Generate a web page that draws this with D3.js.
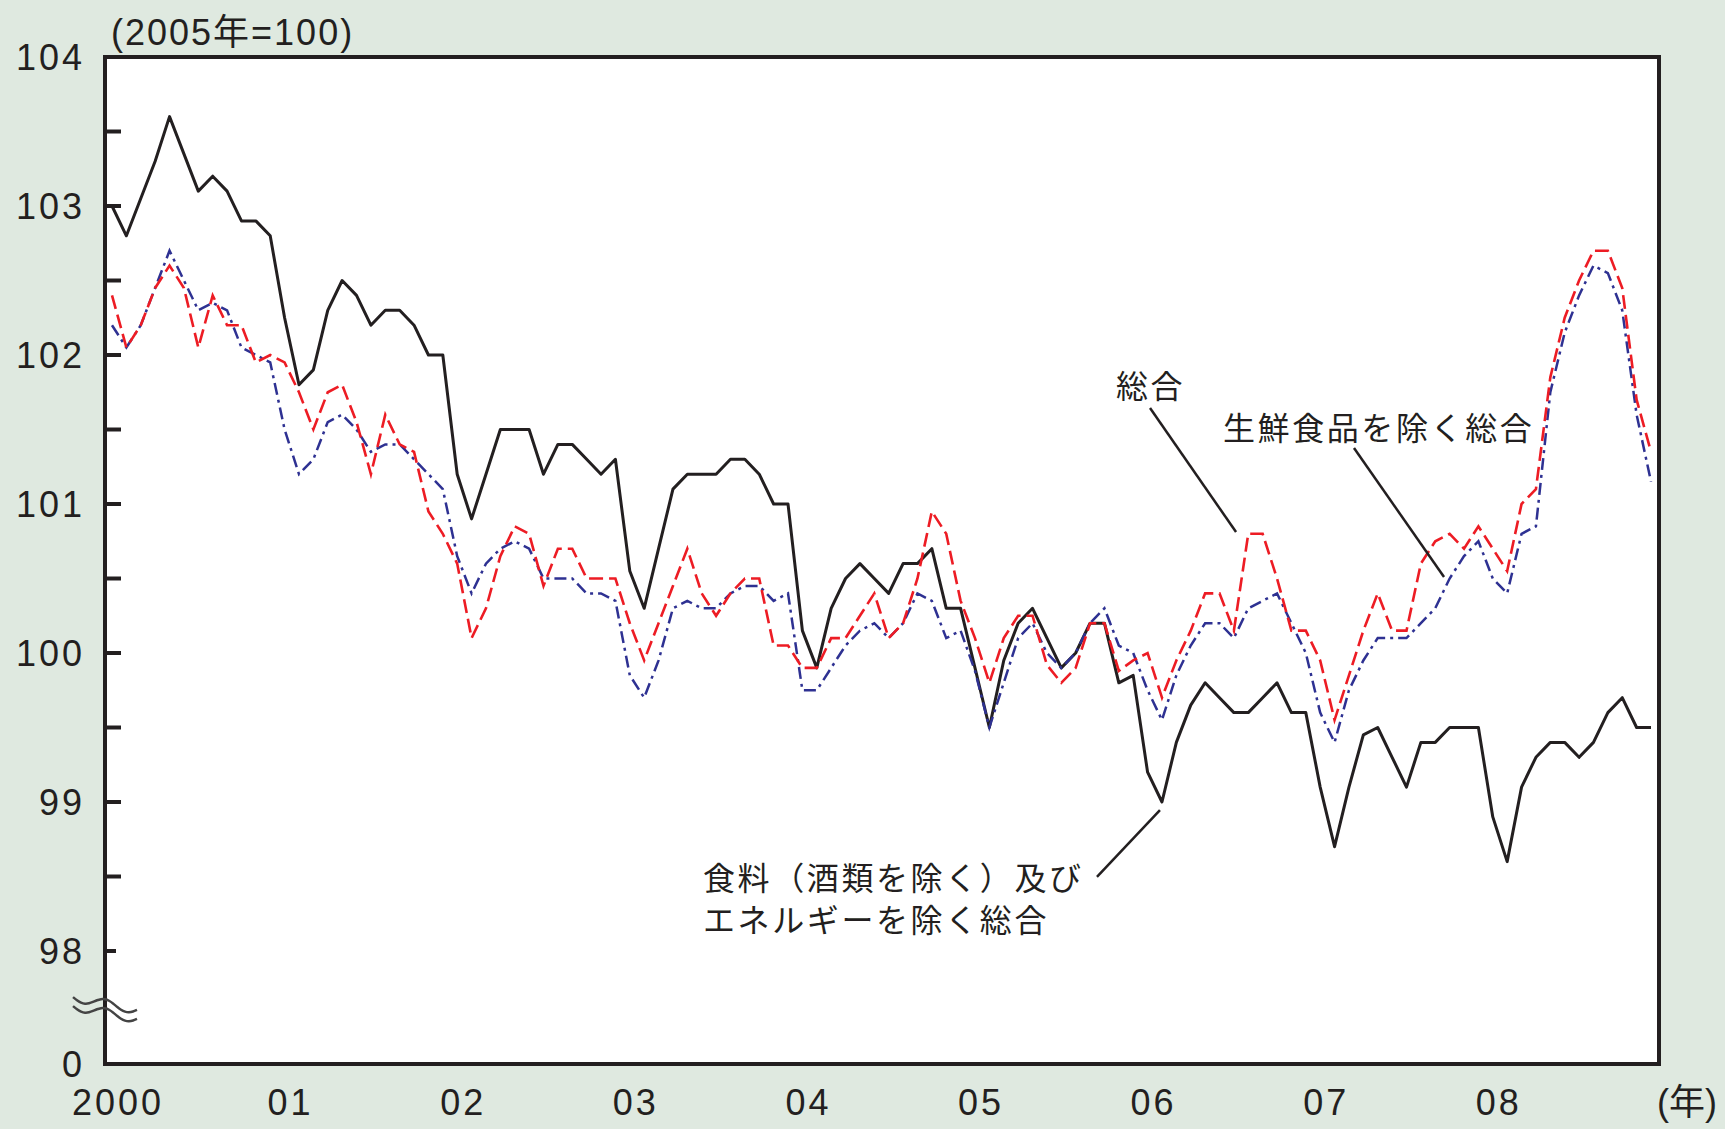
<!DOCTYPE html>
<html>
<head>
<meta charset="utf-8">
<script src="https://cdn.jsdelivr.net/npm/d3@7"></script>
<style>
  html, body { margin: 0; padding: 0; background: #dfe9e0; }
  svg { display: block; }
</style>
</head>
<body>
<script>
// 年ラベル(各年1月の位置)
var yearLabels = ["2000", "01", "02", "03", "04", "05", "06", "07", "08"];
// 縦軸の目盛ラベル(0 は省略記号の下)
var yLabelValues = [0, 98, 99, 100, 101, 102, 103, 104];
var yTickValues = d3.range(98, 104, 0.5);

// 食料（酒類を除く）及びエネルギーを除く総合 (2000年1月〜2008年12月)
var coreCore = [
  103.0, 102.8, 103.05, 103.3, 103.6, 103.35, 103.1, 103.2, 103.1, 102.9, 102.9, 102.8,
  102.25, 101.8, 101.9, 102.3, 102.5, 102.4, 102.2, 102.3, 102.3, 102.2, 102.0, 102.0,
  101.2, 100.9, 101.2, 101.5, 101.5, 101.5, 101.2, 101.4, 101.4, 101.3, 101.2, 101.3,
  100.55, 100.3, 100.7, 101.1, 101.2, 101.2, 101.2, 101.3, 101.3, 101.2, 101.0, 101.0,
  100.15, 99.9, 100.3, 100.5, 100.6, 100.5, 100.4, 100.6, 100.6, 100.7, 100.3, 100.3,
  99.9, 99.5, 99.95, 100.2, 100.3, 100.1, 99.9, 100.0, 100.2, 100.2, 99.8, 99.85,
  99.2, 99.0, 99.4, 99.65, 99.8, 99.7, 99.6, 99.6, 99.7, 99.8, 99.6, 99.6,
  99.1, 98.7, 99.1, 99.45, 99.5, 99.3, 99.1, 99.4, 99.4, 99.5, 99.5, 99.5,
  98.9, 98.6, 99.1, 99.3, 99.4, 99.4, 99.3, 99.4, 99.6, 99.7, 99.5, 99.5
];

// 総合
var allItems = [
  102.4, 102.05, 102.2, 102.45, 102.6, 102.45, 102.05, 102.4, 102.2, 102.2, 101.95, 102.0,
  101.95, 101.75, 101.5, 101.75, 101.8, 101.55, 101.2, 101.6, 101.4, 101.35, 100.95, 100.8,
  100.6, 100.1, 100.3, 100.65, 100.85, 100.8, 100.45, 100.7, 100.7, 100.5, 100.5, 100.5,
  100.2, 99.95, 100.2, 100.45, 100.7, 100.4, 100.25, 100.4, 100.5, 100.5, 100.05, 100.05,
  99.9, 99.9, 100.1, 100.1, 100.25, 100.4, 100.1, 100.2, 100.5, 100.95, 100.8, 100.35,
  100.1, 99.8, 100.1, 100.25, 100.25, 99.92, 99.8, 99.9, 100.2, 100.2, 99.88, 99.95,
  100.0, 99.7, 99.95, 100.15, 100.4, 100.4, 100.15, 100.8, 100.8, 100.5, 100.15, 100.15,
  99.95, 99.55, 99.85, 100.15, 100.4, 100.15, 100.15, 100.6, 100.75, 100.8, 100.7, 100.85,
  100.7, 100.55, 101.0, 101.1, 101.85, 102.25, 102.5, 102.7, 102.7, 102.45, 101.7, 101.35
];

// 生鮮食品を除く総合
var exFresh = [
  102.2, 102.05, 102.2, 102.45, 102.7, 102.5, 102.3, 102.35, 102.3, 102.05, 102.0, 101.95,
  101.5, 101.2, 101.3, 101.55, 101.6, 101.5, 101.35, 101.4, 101.4, 101.3, 101.2, 101.1,
  100.65, 100.4, 100.6, 100.7, 100.75, 100.7, 100.5, 100.5, 100.5, 100.4, 100.4, 100.35,
  99.85, 99.7, 99.95, 100.3, 100.35, 100.3, 100.3, 100.4, 100.45, 100.45, 100.35, 100.4,
  99.75, 99.75, 99.9, 100.05, 100.15, 100.2, 100.1, 100.2, 100.4, 100.35, 100.1, 100.15,
  99.88, 99.5, 99.8, 100.1, 100.2, 100.0, 99.9, 100.0, 100.2, 100.3, 100.05, 100.0,
  99.75, 99.55, 99.85, 100.05, 100.2, 100.2, 100.1, 100.3, 100.35, 100.4, 100.2, 100.0,
  99.6, 99.4, 99.75, 99.95, 100.1, 100.1, 100.1, 100.2, 100.3, 100.5, 100.65, 100.75,
  100.5, 100.4, 100.8, 100.85, 101.75, 102.15, 102.4, 102.6, 102.55, 102.3, 101.6, 101.15
];

// 注記(位置は月番号と指数値で指定)
var notes = [
  { lines: ["総合"], at: [69.8, 101.805], from: [72.17, 101.644], to: [78.15, 100.812] },
  { lines: ["生鮮食品を除く総合"], at: [77.24, 101.523], from: [86.35, 101.376], to: [92.61, 100.51] },
  { lines: ["食料（酒類を除く）及び", "エネルギーを除く総合"], at: [41.09, 98.503],
    from: [68.48, 98.497], to: [72.86, 98.946] }
];

var W = 1725, H = 1129;
var plot = { left: 105, top: 57, right: 1659, bottom: 1064 };
var ink = "#231f20";
var numFont = "'Liberation Sans', Arial, 'Noto Sans CJK JP', sans-serif";
var jpFont = "'Noto Sans CJK JP', 'Noto Sans CJK SC', sans-serif";

var svg = d3.select("body").append("svg")
  .attr("width", W)
  .attr("height", H);

svg.append("rect")
  .attr("width", W)
  .attr("height", H)
  .attr("fill", "#dfe9e0");

// 横軸: 月番号 0..107
var x = d3.scaleLinear()
  .domain([0, coreCore.length - 1])
  .range([112, 1651]);

// 縦軸: 98〜104 と、省略した 0 を下端に
var y = d3.scaleLinear()
  .domain([0, 98, 104])
  .range([plot.bottom, 951, plot.top]);

// プロット領域
svg.append("rect")
  .attr("x", plot.left)
  .attr("y", plot.top)
  .attr("width", plot.right - plot.left)
  .attr("height", plot.bottom - plot.top)
  .attr("fill", "#fff");

// 目盛(内向き)
svg.append("g")
  .selectAll("line")
  .data(yTickValues)
  .join("line")
  .attr("x1", plot.left)
  .attr("x2", function(d) { return plot.left + (d === 98 ? 11 : 16); })
  .attr("y1", function(d) { return y(d); })
  .attr("y2", function(d) { return y(d); })
  .attr("stroke", ink)
  .attr("stroke-width", 4);

// 縦軸ラベル
var yAxis = svg.append("g")
  .attr("transform", "translate(" + plot.left + ",0)")
  .call(d3.axisLeft(y).tickValues(yLabelValues).tickSize(0).tickPadding(20)
    .tickFormat(d3.format("d")));
yAxis.select(".domain").remove();
yAxis.selectAll("text")
  .attr("dy", null)
  .attr("dominant-baseline", "central")
  .style("font-family", numFont)
  .style("font-size", "36px")
  .style("letter-spacing", "3px")
  .attr("fill", ink);

// 横軸ラベル
var xAxis = svg.append("g")
  .attr("transform", "translate(5.5," + plot.bottom + ")")
  .call(d3.axisBottom(x)
    .tickValues(yearLabels.map(function(d, i) { return i * 12; }))
    .tickFormat(function(d) { return yearLabels[d / 12]; })
    .tickSize(0).tickPadding(38));
xAxis.select(".domain").remove();
xAxis.selectAll("text")
  .attr("dy", null)
  .attr("dominant-baseline", "central")
  .style("font-family", numFont)
  .style("font-size", "36px")
  .style("letter-spacing", "3px")
  .attr("fill", ink);

svg.append("text")
  .attr("x", 1657)
  .attr("y", 1102)
  .attr("dominant-baseline", "central")
  .style("font-family", numFont)
  .style("font-size", "36px")
  .attr("fill", ink)
  .text("(年)");

svg.append("text")
  .attr("x", 111)
  .attr("y", 32)
  .attr("dominant-baseline", "central")
  .style("font-family", numFont)
  .style("font-size", "36px")
  .style("letter-spacing", "2px")
  .attr("fill", ink)
  .text("(2005年=100)");

// 系列
var line = d3.line()
  .x(function(d, i) { return x(i); })
  .y(function(d) { return y(d); });

svg.append("path")
  .datum(coreCore)
  .attr("d", line)
  .attr("fill", "none")
  .attr("stroke", ink)
  .attr("stroke-width", 3)
  .attr("stroke-linejoin", "round");

svg.append("path")
  .datum(exFresh)
  .attr("d", line)
  .attr("fill", "none")
  .attr("stroke", "#2e3192")
  .attr("stroke-width", 2.5)
  .attr("stroke-dasharray", "12,5,3,5");

svg.append("path")
  .datum(allItems)
  .attr("d", line)
  .attr("fill", "none")
  .attr("stroke", "#ed1c24")
  .attr("stroke-width", 2.6)
  .attr("stroke-dasharray", "14,6");

// 注記と引出線
notes.forEach(function(n) {
  svg.append("line")
    .attr("x1", x(n.from[0])).attr("y1", y(n.from[1]))
    .attr("x2", x(n.to[0])).attr("y2", y(n.to[1]))
    .attr("stroke", ink)
    .attr("stroke-width", 2.5);
  n.lines.forEach(function(t, k) {
    svg.append("text")
      .attr("x", x(n.at[0]))
      .attr("y", y(n.at[1]) + k * 42)
      .attr("dominant-baseline", "central")
      .style("font-family", jpFont)
      .style("font-size", "32px")
      .style("letter-spacing", "2.6px")
      .attr("fill", ink)
      .text(t);
  });
});

// 枠
svg.append("rect")
  .attr("x", plot.left)
  .attr("y", plot.top)
  .attr("width", plot.right - plot.left)
  .attr("height", plot.bottom - plot.top)
  .attr("fill", "none")
  .attr("stroke", ink)
  .attr("stroke-width", 4);

// 軸の省略記号(≈)
var breakY = (y(98) + y(0)) / 2;
var wave = d3.line().curve(d3.curveBasis);
[0, 9].forEach(function(off) {
  var pts = d3.range(0, 17).map(function(t) {
    var px = -32 + t * 4;
    return [plot.left + px, breakY - 4 + off + px * 0.2 + 4.5 * Math.sin(t / 16 * Math.PI * 3)];
  });
  svg.append("path")
    .attr("d", wave(pts))
    .attr("fill", "none")
    .attr("stroke", "#444")
    .attr("stroke-width", 2.5);
});
</script>
</body>
</html>
